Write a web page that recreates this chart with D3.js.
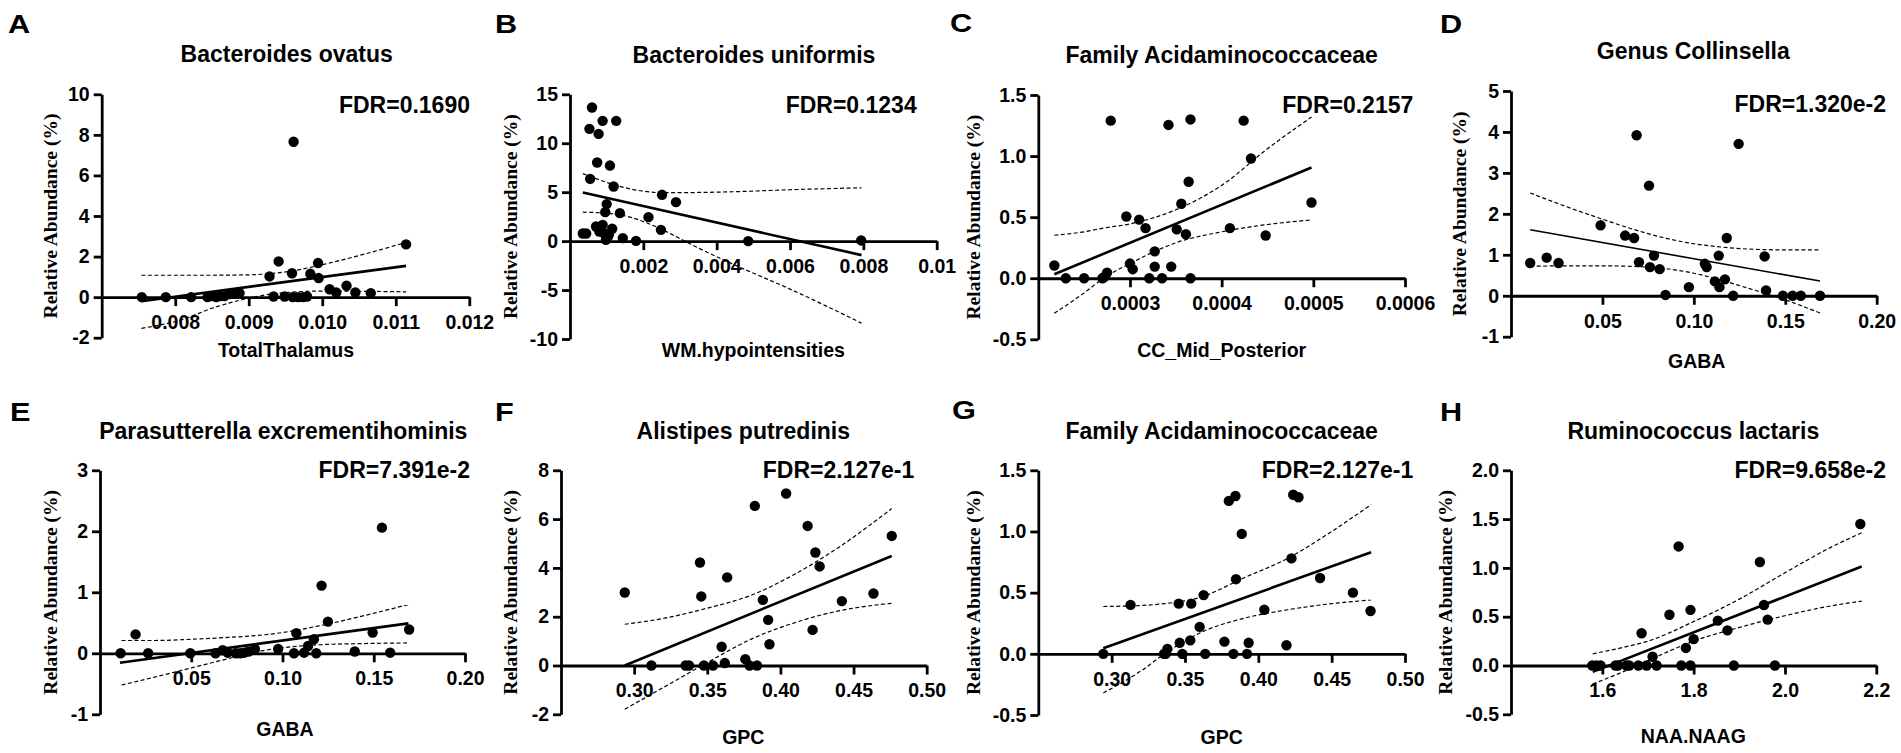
<!DOCTYPE html>
<html>
<head>
<meta charset="utf-8">
<script src="https://cdn.jsdelivr.net/npm/d3@7"></script>
<style>
  body { margin: 0; background: #fff; }
  svg { display: block; }
</style>
</head>
<body>
<div id="chart"></div>
<script>
// panel labels and texts
const letters = ["A", "B", "C", "D", "E", "F", "G", "H"];
const titles = ["Bacteroides ovatus", "Bacteroides uniformis", "Family Acidaminococcaceae", "Genus Collinsella",
    "Parasutterella excrementihominis", "Alistipes putredinis", "Family Acidaminococcaceae", "Ruminococcus lactaris"];
const xAxisTitles = ["TotalThalamus", "WM.hypointensities", "CC_Mid_Posterior", "GABA", "GABA", "GPC", "GPC", "NAA.NAAG"];
const fdrTexts = ["FDR=0.1690", "FDR=0.1234", "FDR=0.2157", "FDR=1.320e-2", "FDR=7.391e-2", "FDR=2.127e-1", "FDR=2.127e-1", "FDR=9.658e-2"];

// axis domains and ticks
const xDomains = [[0.007, 0.012], [0, 0.01], [0.0002, 0.0006], [0, 0.2], [0, 0.2], [0.25, 0.5], [0.25, 0.5], [1.4, 2.2]];
const yDomains = [[-2, 10], [-10, 15], [-0.5, 1.5], [-1, 5], [-1, 3], [-2, 8], [-0.5, 1.5], [-0.5, 2.0]];
const xTickVals = [[0.008, 0.009, 0.010, 0.011, 0.012], [0.002, 0.004, 0.006, 0.008, 0.01], [0.0003, 0.0004, 0.0005, 0.0006],
    [0.05, 0.10, 0.15, 0.20], [0.05, 0.10, 0.15, 0.20], [0.30, 0.35, 0.40, 0.45, 0.50], [0.30, 0.35, 0.40, 0.45, 0.50], [1.6, 1.8, 2.0, 2.2]];
const xTickText = [["0.008", "0.009", "0.010", "0.011", "0.012"], ["0.002", "0.004", "0.006", "0.008", "0.01"], ["0.0003", "0.0004", "0.0005", "0.0006"],
    ["0.05", "0.10", "0.15", "0.20"], ["0.05", "0.10", "0.15", "0.20"], ["0.30", "0.35", "0.40", "0.45", "0.50"], ["0.30", "0.35", "0.40", "0.45", "0.50"], ["1.6", "1.8", "2.0", "2.2"]];
const yTickVals = [[-2, 0, 2, 4, 6, 8, 10], [-10, -5, 0, 5, 10, 15], [-0.5, 0, 0.5, 1, 1.5], [-1, 0, 1, 2, 3, 4, 5],
    [-1, 0, 1, 2, 3], [-2, 0, 2, 4, 6, 8], [-0.5, 0, 0.5, 1, 1.5], [-0.5, 0, 0.5, 1, 1.5, 2]];
const yTickText = [["-2", "0", "2", "4", "6", "8", "10"], ["-10", "-5", "0", "5", "10", "15"], ["-0.5", "0.0", "0.5", "1.0", "1.5"], ["-1", "0", "1", "2", "3", "4", "5"],
    ["-1", "0", "1", "2", "3"], ["-2", "0", "2", "4", "6", "8"], ["-0.5", "0.0", "0.5", "1.0", "1.5"], ["-0.5", "0.0", "0.5", "1.0", "1.5", "2.0"]];

// scatter points
const aX = [0.007545, 0.007872, 0.008217, 0.008439, 0.008499, 0.008557, 0.008612, 0.00867, 0.008748, 0.008816, 0.008875, 0.009283, 0.009338, 0.009406, 0.009488,
    0.009589, 0.009597, 0.00961, 0.00967, 0.009738, 0.009793, 0.009838, 0.009943, 0.009951, 0.0101, 0.01019, 0.01033, 0.01045, 0.01066, 0.01114];
const aY = [0, 0, 0, 0, 0.05, 0, 0.05, 0.05, 0.15, 0.2, 0.2, 1.02, 0.03, 1.76, 0.03, 1.18, 0, 7.66, 0, 0, 0.03, 1.15, 1.68, 0.94, 0.39, 0.23, 0.56, 0.23, 0.2, 2.6];
const bX = [0.00035, 0.00044, 0.00053, 0.00055, 0.0006, 0.00071, 0.00074, 0.00078, 0.0008, 0.00089, 0.00089, 0.00092, 0.00096, 0.00098, 0.001,
    0.00102, 0.00106, 0.00109, 0.00115, 0.00119, 0.00126, 0.00136, 0.00144, 0.0018, 0.00214, 0.00248, 0.00251, 0.00289, 0.00486, 0.00794];
const bY = [0.78, 0.78, 11.47, 6.36, 13.65, 1.49, 8.03, 10.96, 0.98, 12.29, 1.66, 0.82, 2.96, 0.13, 3.78, 0.35, 0.64, 7.72, 1.26, 5.58, 12.29, 2.86, 0.31, 0.03, 2.45, 1.15, 4.73, 3.98, 0, 0.07];
const cX = [0.0002175, 0.00023, 0.00025, 0.00027, 0.000272, 0.000275, 0.000279, 0.000296, 0.0003, 0.000303, 0.00031, 0.000317, 0.000321, 0.000327, 0.000327,
    0.000335, 0.000342, 0.000345, 0.000351, 0.000356, 0.000361, 0.000364, 0.000366, 0.000366, 0.000409, 0.000424, 0.000432, 0.000448, 0.000498];
const cY = [0.104, 0, 0, 0, 0.01, 0.046, 1.29, 0.505, 0.12, 0.074, 0.48, 0.41, 0, 0.22, 0.095, 0, 1.255, 0.095, 0.40, 0.61, 0.36, 0.79, 1.30, 0, 0.41, 1.29, 0.98, 0.35, 0.62];
const dX = [0.0105, 0.0195, 0.026, 0.049, 0.0624, 0.0673, 0.0687, 0.070, 0.0755, 0.076, 0.0782, 0.0813, 0.0845, 0.0973, 0.106,
    0.107, 0.1115, 0.1136, 0.114, 0.117, 0.118, 0.1215, 0.1245, 0.1387, 0.1395, 0.1487, 0.154, 0.1585, 0.169];
const dY = [0.80, 0.93, 0.80, 1.72, 1.47, 1.41, 3.92, 0.82, 2.69, 0.70, 0.98, 0.65, 0.02, 0.21, 0.78, 0.70, 0.35, 0.98, 0.21, 0.40, 1.41, 0, 3.71, 0.96, 0.13, 0, 0, 0, 0];
const eX = [0.0113, 0.0195, 0.0264, 0.0495, 0.0633, 0.0672, 0.070, 0.0745, 0.0769, 0.0791, 0.0814, 0.0849, 0.0976, 0.1063, 0.1076,
    0.1118, 0.114, 0.1172, 0.1185, 0.1214, 0.1249, 0.1396, 0.1494, 0.1545, 0.159, 0.1694];
const eY = [0, 0.31, 0, 0, 0, 0.05, 0.01, 0, 0, 0.01, 0.03, 0.07, 0.07, 0, 0.33, 0.01, 0.12, 0.23, 0, 1.11, 0.52, 0.03, 0.34, 2.06, 0.01, 0.39];
const fX = [0.2936, 0.3118, 0.3352, 0.3375, 0.345, 0.3459, 0.3477, 0.3539, 0.3598, 0.362, 0.3636, 0.376, 0.3789, 0.3825, 0.384,
    0.388, 0.3916, 0.3925, 0.4039, 0.4186, 0.422, 0.4239, 0.4268, 0.442, 0.4636, 0.4761];
const fY = [2.99, 0, 0, 0, 4.22, 2.83, 0, 0, 0.77, 0.1, 3.61, 0.26, 0, 6.54, 0, 2.69, 1.87, 0.87, 7.05, 5.72, 1.46, 4.63, 4.06, 2.64, 2.95, 5.31];
const gX = [0.2943, 0.3129, 0.3357, 0.3369, 0.338, 0.3457, 0.3464, 0.3482, 0.3536, 0.3543, 0.360, 0.3627, 0.3638, 0.3769, 0.3799,
    0.383, 0.3844, 0.3848, 0.3887, 0.3923, 0.3934, 0.4041, 0.4192, 0.4226, 0.4238, 0.4274, 0.4421, 0.4645, 0.4765];
const gY = [0, 0.40, 0, 0, 0.04, 0.41, 0.09, 0, 0.11, 0.41, 0.22, 0.48, 0, 0.10, 1.25, 0, 1.29, 0.61, 0.98, 0, 0.09, 0.36, 0.07, 0.78, 1.30, 1.28, 0.62, 0.50, 0.35];
const hX = [1.578, 1.587, 1.596, 1.629, 1.634, 1.653, 1.659, 1.679, 1.686, 1.697, 1.710, 1.719, 1.747, 1.767, 1.773,
    1.783, 1.793, 1.793, 1.8, 1.853, 1.874, 1.888, 1.945, 1.954, 1.962, 1.978, 2.165];
const hY = [0, 0, 0, 0, 0, 0, 0, 0, 0.33, 0, 0.09, 0, 0.52, 1.22, 0, 0.18, 0.57, 0, 0.27, 0.46, 0.36, 0, 1.06, 0.62, 0.47, 0, 1.45];

// regression lines (end points)
const fitX = [[0.00754, 0.01114], [0.00035, 0.00795], [0.0002175, 0.000498], [0.0105, 0.169],
    [0.0109, 0.169], [0.2936, 0.4761], [0.2943, 0.4769], [1.579, 2.168]];
const fitY = [[-0.2, 1.54], [4.97, -1.43], [0.033, 0.906], [1.61, 0.36],
    [-0.154, 0.49], [0, 4.49], [0.046, 0.83], [-0.065, 1.014]];

// 95% confidence bands
const aBandX = [0.00754, 0.0081, 0.0085, 0.009, 0.0093, 0.0096, 0.01, 0.0105, 0.01114];
const aUpper = [1.08, 1.08, 1.08, 1.1, 1.16, 1.3, 1.6, 2.05, 2.7];
const aLower = [-1.54, -1.1, -0.55, -0.05, 0.15, 0.25, 0.3, 0.29, 0.26];
const bBandX = [0.00035, 0.001, 0.00135, 0.002, 0.0025, 0.003, 0.0035, 0.0045, 0.006, 0.00795];
const bUpper = [6.9, 6.0, 5.6, 5.1, 4.95, 4.95, 4.97, 5.05, 5.25, 5.45];
const bLower = [2.96, 2.85, 2.7, 2.0, 1.2, 0.25, -0.7, -2.45, -4.9, -8.38];
const cBandX = [0.0002175, 0.00025, 0.000271, 0.0003, 0.00035, 0.0004, 0.00045, 0.000498];
const cUpper = [0.352, 0.38, 0.41, 0.445, 0.56, 0.76, 1.06, 1.32];
const cLower = [-0.287, -0.12, 0, 0.12, 0.29, 0.38, 0.44, 0.477];
const dBandX = [0.0105, 0.03, 0.05, 0.07, 0.085, 0.1, 0.115, 0.13, 0.15, 0.169];
const dUpper = [2.51, 2.18, 1.87, 1.58, 1.4, 1.27, 1.19, 1.14, 1.12, 1.12];
const dLower = [0.72, 0.73, 0.73, 0.71, 0.66, 0.55, 0.38, 0.18, -0.1, -0.42];
const eBandX = [0.0118, 0.03, 0.05, 0.07, 0.085, 0.1, 0.12, 0.145, 0.169];
const eUpper = [0.21, 0.21, 0.23, 0.26, 0.29, 0.34, 0.45, 0.62, 0.8];
const eLower = [-0.52, -0.39, -0.24, -0.09, 0.02, 0.09, 0.14, 0.16, 0.17];
const fBandX = [0.2936, 0.32, 0.35, 0.38, 0.41, 0.44, 0.4761];
const fUpper = [1.69, 1.93, 2.35, 2.88, 3.75, 4.85, 6.43];
const fLower = [-1.79, -0.9, 0.12, 1.08, 1.76, 2.24, 2.55];
const gBandX = [0.2943, 0.32, 0.336, 0.36, 0.39, 0.42, 0.45, 0.4769];
const gUpper = [0.387, 0.395, 0.41, 0.46, 0.62, 0.78, 1.0, 1.22];
const gLower = [-0.32, -0.14, 0, 0.17, 0.29, 0.36, 0.41, 0.44];
const hBandX = [1.579, 1.65, 1.7, 1.8, 1.9, 2.0, 2.1, 2.168];
const hUpper = [0.12, 0.19, 0.25, 0.45, 0.68, 0.95, 1.21, 1.36];
const hLower = [-0.19, -0.055, 0.05, 0.25, 0.39, 0.51, 0.61, 0.66];

// where each panel sits on the page
const boxes = [
    { ax: 101.7, top: 94.3, bottom: 337.7, right: 469.3, titleX: 286.7, titleY: 62, fdrX: 470, fdrY: 113, xtX: 286, xtY: 357, ytX: 52, letterX: 8, letterY: 33, fitW: 2.6 },
    { ax: 570, top: 94.3, bottom: 339, right: 936.7, titleX: 754, titleY: 62.7, fdrX: 916.7, fdrY: 113.3, xtX: 753.3, xtY: 356.7, ytX: 512.3, letterX: 495, letterY: 32.7, fitW: 2.6 },
    { ax: 1038.3, top: 95, bottom: 339.3, right: 1405, titleX: 1221.7, titleY: 63, fdrX: 1413.3, fdrY: 112.7, xtX: 1221.7, xtY: 357, ytX: 975, letterX: 950, letterY: 31.7, fitW: 2.6 },
    { ax: 1511, top: 91, bottom: 336.7, right: 1876.7, titleX: 1693.3, titleY: 59.3, fdrX: 1886, fdrY: 111.7, xtX: 1696.7, xtY: 368.3, ytX: 1461.7, letterX: 1440, letterY: 33.3, fitW: 1.6 },
    { ax: 100, top: 470.3, bottom: 714.3, right: 465, titleX: 283.3, titleY: 438.7, fdrX: 470, fdrY: 477.7, xtX: 285, xtY: 736, ytX: 52.3, letterX: 10, letterY: 421, fitW: 2.6 },
    { ax: 561, top: 470.3, bottom: 714.3, right: 926.7, titleX: 743.3, titleY: 438.7, fdrX: 914.3, fdrY: 477.7, xtX: 743.3, xtY: 744.3, ytX: 512.3, letterX: 495, letterY: 421, fitW: 2.6 },
    { ax: 1038.3, top: 470.3, bottom: 715, right: 1405, titleX: 1221.7, titleY: 438.7, fdrX: 1413.3, fdrY: 477.7, xtX: 1221.7, xtY: 744.3, ytX: 975, letterX: 952, letterY: 419.3, fitW: 2.6 },
    { ax: 1511, top: 470.3, bottom: 714.3, right: 1876.3, titleX: 1693.3, titleY: 438.7, fdrX: 1886, fdrY: 477.7, xtX: 1693.3, xtY: 742.7, ytX: 1447.7, letterX: 1440, letterY: 421, fitW: 2.6 }
];

const pointsX = [aX, bX, cX, dX, eX, fX, gX, hX];
const pointsY = [aY, bY, cY, dY, eY, fY, gY, hY];
const bandX = [aBandX, bBandX, cBandX, dBandX, eBandX, fBandX, gBandX, hBandX];
const bandUpper = [aUpper, bUpper, cUpper, dUpper, eUpper, fUpper, gUpper, hUpper];
const bandLower = [aLower, bLower, cLower, dLower, eLower, fLower, gLower, hLower];

const sans = "'Liberation Sans', Arial, Helvetica, sans-serif";
const serif = "'Liberation Serif', 'Times New Roman', serif";

const svg = d3.select("#chart").append("svg")
    .attr("width", 1901)
    .attr("height", 753);

letters.forEach((letter, i) => {
    const b = boxes[i];
    const g = svg.append("g").attr("class", "panel panel-" + letter);

    const x = d3.scaleLinear().domain(xDomains[i]).range([b.ax, b.right]);
    const y = d3.scaleLinear().domain(yDomains[i]).range([b.bottom, b.top]);

    // y axis
    const yAxis = g.append("g")
        .attr("transform", "translate(" + b.ax + ",0)")
        .call(d3.axisLeft(y)
            .tickValues(yTickVals[i])
            .tickFormat((d, k) => yTickText[i][k])
            .tickSizeInner(8)
            .tickSizeOuter(0)
            .tickPadding(4));

    // x axis crossing at y = 0
    const xAxis = g.append("g")
        .attr("transform", "translate(0," + y(0) + ")")
        .call(d3.axisBottom(x)
            .tickValues(xTickVals[i])
            .tickFormat((d, k) => xTickText[i][k])
            .tickSizeInner(9)
            .tickSizeOuter(0)
            .tickPadding(9));

    [yAxis, xAxis].forEach(ax => {
        ax.attr("font-family", sans).attr("font-size", 19.5).attr("font-weight", "bold");
        ax.selectAll("path, line").attr("stroke", "#000").attr("stroke-width", 2.8);
        ax.selectAll("text").attr("fill", "#000");
    });

    // confidence bands
    const bandLine = d3.line()
        .x(d => x(d[0]))
        .y(d => y(d[1]))
        .curve(d3.curveMonotoneX);

    [bandUpper[i], bandLower[i]].forEach(vals => {
        g.append("path")
            .datum(bandX[i].map((v, k) => [v, vals[k]]))
            .attr("d", bandLine)
            .attr("fill", "none")
            .attr("stroke", "#000")
            .attr("stroke-width", 1.2)
            .attr("stroke-dasharray", "4,2.5");
    });

    // regression line
    g.append("line")
        .attr("x1", x(fitX[i][0]))
        .attr("y1", y(fitY[i][0]))
        .attr("x2", x(fitX[i][1]))
        .attr("y2", y(fitY[i][1]))
        .attr("stroke", "#000")
        .attr("stroke-width", b.fitW);

    // points
    g.selectAll("circle")
        .data(pointsX[i].map((v, k) => [v, pointsY[i][k]]))
        .enter()
        .append("circle")
        .attr("cx", d => x(d[0]))
        .attr("cy", d => y(d[1]))
        .attr("r", 5.2)
        .attr("fill", "#000");

    // panel letter, a bit wider than plain Arial bold like the original
    g.append("text")
        .attr("transform", "translate(" + b.letterX + "," + b.letterY + ") scale(1.18,1)")
        .attr("font-family", sans)
        .attr("font-weight", "bold")
        .attr("font-size", 26)
        .text(letter);

    g.append("text")
        .attr("x", b.titleX)
        .attr("y", b.titleY)
        .attr("text-anchor", "middle")
        .attr("font-family", sans)
        .attr("font-weight", "bold")
        .attr("font-size", 23)
        .text(titles[i]);

    g.append("text")
        .attr("x", b.fdrX)
        .attr("y", b.fdrY)
        .attr("text-anchor", "end")
        .attr("font-family", sans)
        .attr("font-weight", "bold")
        .attr("font-size", 23)
        .text(fdrTexts[i]);

    g.append("text")
        .attr("x", b.xtX)
        .attr("y", b.xtY)
        .attr("text-anchor", "middle")
        .attr("font-family", sans)
        .attr("font-weight", "bold")
        .attr("font-size", 19.5)
        .text(xAxisTitles[i]);

    g.append("text")
        .attr("transform", "translate(" + b.ytX + "," + ((b.top + b.bottom) / 2) + ") rotate(-90)")
        .attr("dy", 4.5)
        .attr("text-anchor", "middle")
        .attr("font-family", serif)
        .attr("font-weight", "bold")
        .attr("font-size", 19.5)
        .text("Relative Abundance (%)");
});
</script>
</body>
</html>
